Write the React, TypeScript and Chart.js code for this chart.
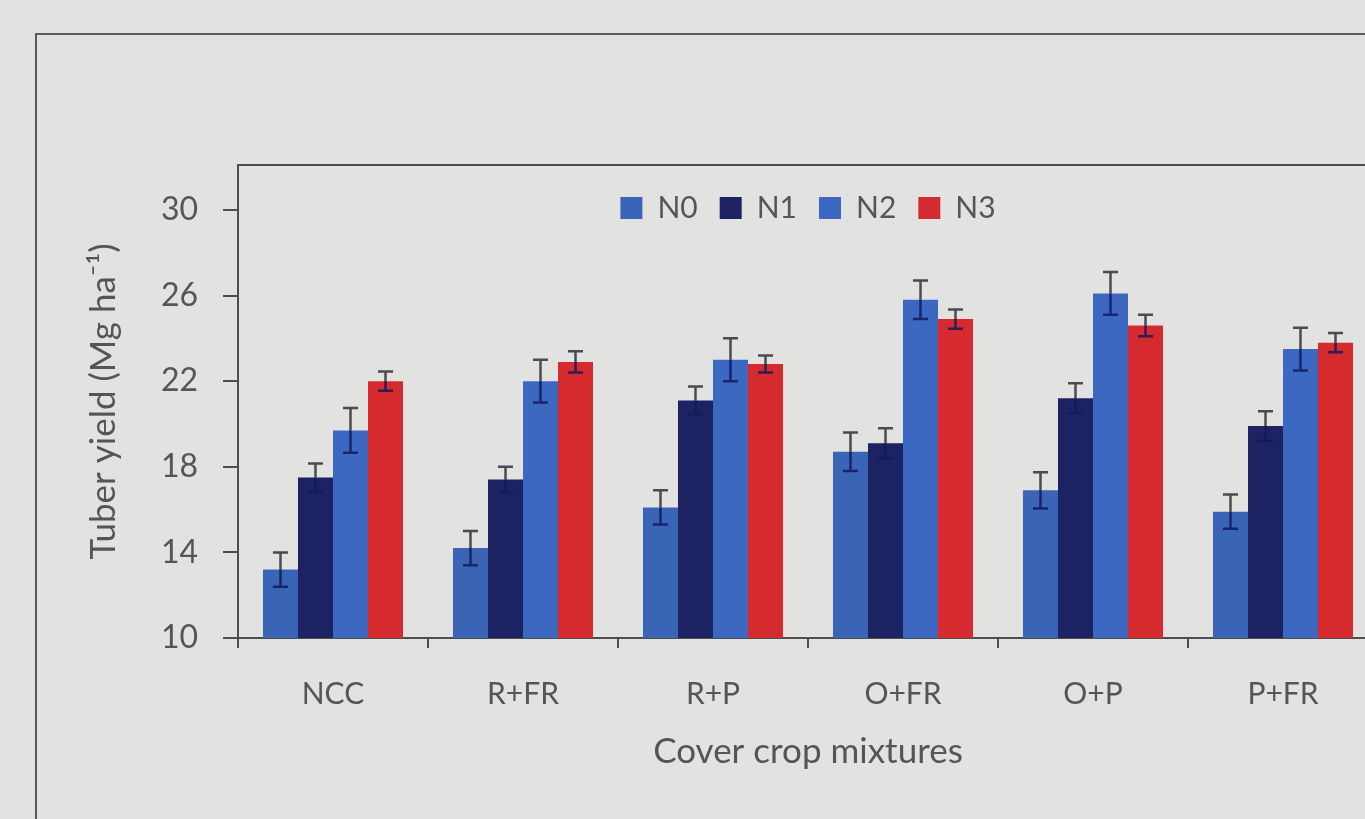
import React, { useEffect, useRef } from "react";
import { Chart, registerables } from "chart.js";

Chart.register(...registerables);

const categories = ["NCC", "R+FR", "R+P", "O+FR", "O+P", "P+FR"];
const seriesNames = ["N0", "N1", "N2", "N3"];
const n0Values = [13.2, 14.2, 16.1, 18.7, 16.9, 15.9];
const n1Values = [17.5, 17.4, 21.1, 19.1, 21.2, 19.9];
const n2Values = [19.7, 22.0, 23.0, 25.8, 26.1, 23.5];
const n3Values = [22.0, 22.9, 22.8, 24.9, 24.6, 23.8];
const n0Errors = [0.8, 0.8, 0.8, 0.9, 0.85, 0.8];
const n1Errors = [0.65, 0.6, 0.65, 0.7, 0.7, 0.7];
const n2Errors = [1.05, 1.0, 1.0, 0.9, 1.0, 1.0];
const n3Errors = [0.45, 0.5, 0.4, 0.45, 0.5, 0.45];
const yTickValues = [10, 14, 18, 22, 26, 30];
const seriesColors = ["#3a64b6", "#1d2262", "#3c68c2", "#d52b2e"];

const errorBarPlugin = {
  id: "errorBars",
  afterDatasetsDraw(chart: any) {
    const ctx = chart.ctx;
    const yScale = chart.scales.y;
    chart.data.datasets.forEach((ds: any, i: number) => {
      const meta = chart.getDatasetMeta(i);
      meta.data.forEach((bar: any, j: number) => {
        const v = ds.data[j];
        const e = ds.errors[j];
        const x = bar.x;
        const yTop = yScale.getPixelForValue(v + e);
        const yBar = yScale.getPixelForValue(v);
        const yBot = yScale.getPixelForValue(v - e);
        const cap = 7.5;
        ctx.save();
        ctx.lineWidth = 2.5;
        ctx.strokeStyle = "#4a4a52";
        ctx.beginPath();
        ctx.moveTo(x, yTop);
        ctx.lineTo(x, yBar);
        ctx.moveTo(x - cap, yTop);
        ctx.lineTo(x + cap, yTop);
        ctx.stroke();
        ctx.strokeStyle = "rgba(20,25,90,0.85)";
        ctx.beginPath();
        ctx.moveTo(x, yBar);
        ctx.lineTo(x, yBot);
        ctx.moveTo(x - cap, yBot);
        ctx.lineTo(x + cap, yBot);
        ctx.stroke();
        ctx.restore();
      });
    });
  },
};

const framePlugin = {
  id: "plotFrame",
  beforeLayout(chart: any) {
    // lay the in-plot legend out as a single horizontal row
    if (chart.legend) chart.legend.isHorizontal = () => true;
  },
  afterLayout(chart: any) {
    const lg = chart.legend;
    if (lg) {
      lg.left = chart.chartArea.left;
      lg.right = chart.chartArea.right;
      lg.top = chart.chartArea.top + 6;
    }
  },
  afterDraw(chart: any) {
    const { ctx, chartArea } = chart;
    ctx.save();
    ctx.strokeStyle = "#4e4e4e";
    ctx.lineWidth = 2;
    ctx.beginPath();
    ctx.moveTo(chartArea.left, chartArea.top);
    ctx.lineTo(chartArea.right, chartArea.top);
    ctx.lineTo(chartArea.right, chartArea.bottom);
    ctx.stroke();
    ctx.restore();
  },
};

export default function App() {
  const canvasRef = useRef<HTMLCanvasElement | null>(null);

  useEffect(() => {
    if (!canvasRef.current) return;
    const valueSets = [n0Values, n1Values, n2Values, n3Values];
    const errorSets = [n0Errors, n1Errors, n2Errors, n3Errors];
    const chart = new Chart(canvasRef.current, {
      type: "bar",
      data: {
        labels: categories,
        datasets: seriesNames.map((name, i) => ({
          label: name,
          data: valueSets[i],
          errors: errorSets[i],
          backgroundColor: seriesColors[i],
          borderWidth: 0,
          barPercentage: 1.0,
          categoryPercentage: 0.737,
        })) as any,
      },
      options: {
        animation: false,
        responsive: true,
        maintainAspectRatio: false,
        layout: { padding: { left: 80, top: 165, right: 42, bottom: 0 } },
        plugins: {
          tooltip: { enabled: false },
          legend: {
            position: "chartArea" as any,
            align: "center",
            labels: {
              boxWidth: 22,
              boxHeight: 22,
              padding: 22,
              color: "#555555",
              font: { family: "Lato", size: 30 },
            },
          },
        },
        scales: {
          x: {
            offset: true,
            grid: {
              offset: true,
              drawOnChartArea: false,
              drawTicks: true,
              tickLength: 10,
              color: "#4e4e4e",
              lineWidth: 2,
            },
            border: { display: true, color: "#4e4e4e", width: 2 },
            ticks: {
              color: "#555555",
              font: { family: "Lato", size: 30 },
              padding: 28,
              maxRotation: 0,
            },
            title: {
              display: true,
              text: "Cover crop mixtures",
              color: "#555555",
              font: { family: "Lato", size: 35 },
              padding: { top: 0, bottom: 46 },
            },
            afterFit(scale: any) {
              scale.height = 181;
            },
          },
          y: {
            min: 10,
            max: 32.1,
            afterBuildTicks(scale: any) {
              scale.ticks = yTickValues.map((v) => ({ value: v }));
            },
            grid: {
              drawOnChartArea: false,
              drawTicks: true,
              tickLength: 15,
              color: "#4e4e4e",
              lineWidth: 2,
            },
            border: { display: true, color: "#4e4e4e", width: 2 },
            ticks: {
              color: "#555555",
              font: { family: "Lato", size: 32 },
              padding: 25,
            },
            title: {
              display: true,
              text: "Tuber yield (Mg ha⁻¹)",
              color: "#555555",
              font: { family: "Lato", size: 35 },
              padding: { top: 3, bottom: 0 },
            },
            afterFit(scale: any) {
              scale.width = 158;
            },
          },
        },
      },
      plugins: [errorBarPlugin, framePlugin],
    });
    return () => chart.destroy();
  }, []);

  return (
    <div
      style={{
        position: "fixed",
        left: 0,
        top: 0,
        width: 1365,
        height: 819,
        overflow: "hidden",
        background: "#e2e2e0",
      }}
    >
      <div
        style={{
          position: "absolute",
          left: 35,
          top: 33,
          width: 1400,
          height: 820,
          borderLeft: "2px solid #5a5a5a",
          borderTop: "2px solid #5a5a5a",
        }}
      />
      <div style={{ position: "absolute", left: 0, top: 0, width: 1420, height: 819 }}>
        <canvas ref={canvasRef} />
      </div>
    </div>
  );
}
